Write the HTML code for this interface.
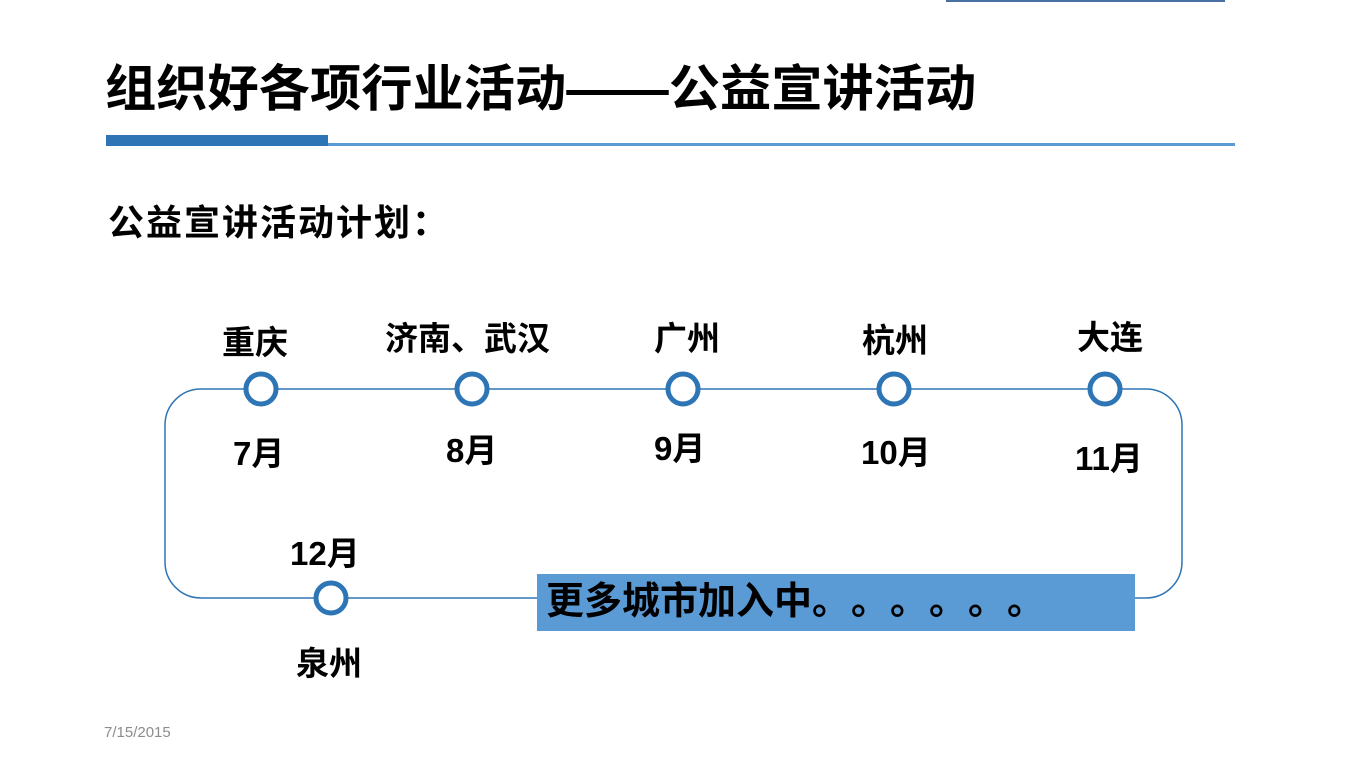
<!DOCTYPE html>
<html><head><meta charset="utf-8"><style>
body{margin:0;width:1366px;height:768px;background:#fff;position:relative;overflow:hidden;font-family:"Liberation Sans","Noto Sans CJK SC",sans-serif}
.t{position:absolute;font-weight:bold;color:#000;white-space:nowrap;line-height:1}
.d{display:inline-block;width:39px}
</style></head><body>
<div style="position:absolute;left:946px;top:0;width:279px;height:2px;background:#4a6fa5"></div>
<div class="t" style="left:105px;top:64px;font-size:50px;letter-spacing:0;transform:scaleX(1.025);transform-origin:left">组织好各项行业活动——公益宣讲活动</div>
<div style="position:absolute;left:106px;top:135px;width:222px;height:11px;background:#2e75b6"></div>
<div style="position:absolute;left:328px;top:143px;width:907px;height:3px;background:#5b9bd5"></div>
<div class="t" style="left:108px;top:205px;font-size:36px;letter-spacing:2px">公益宣讲活动计划：</div>
<svg style="position:absolute;left:0;top:0" width="1366" height="768">
<rect x="165" y="389" width="1017" height="209" rx="36" fill="none" stroke="#2e75b6" stroke-width="1.5"/>
<g fill="#fff" stroke="#2e75b6" stroke-width="5">
<circle cx="261" cy="389" r="15"/><circle cx="472" cy="389" r="15"/><circle cx="683" cy="389" r="15"/><circle cx="894" cy="389" r="15"/><circle cx="1105" cy="389" r="15"/><circle cx="331" cy="598" r="15"/>
</g>
</svg>
<div style="position:absolute;left:537px;top:574px;width:598px;height:57px;background:#5b9bd5"></div>
<div class="t" style="left:546px;top:583px;font-size:38px">更多城市加入中<span class="d">。</span><span class="d">。</span><span class="d">。</span><span class="d">。</span><span class="d">。</span><span class="d">。</span></div>
<div class="t" style="left:222px;top:326px;font-size:33px">重庆</div>
<div class="t" style="left:385px;top:322px;font-size:33px">济南、武汉</div>
<div class="t" style="left:654px;top:322px;font-size:33px">广州</div>
<div class="t" style="left:862px;top:324px;font-size:33px">杭州</div>
<div class="t" style="left:1077px;top:321px;font-size:33px">大连</div>
<div class="t" style="left:233px;top:437px;font-size:33px">7月</div>
<div class="t" style="left:446px;top:434px;font-size:33px">8月</div>
<div class="t" style="left:654px;top:432px;font-size:33px">9月</div>
<div class="t" style="left:861px;top:436px;font-size:33px">10月</div>
<div class="t" style="left:1075px;top:442px;font-size:33px">11月</div>
<div class="t" style="left:290px;top:537px;font-size:33px">12月</div>
<div class="t" style="left:296px;top:647px;font-size:33px">泉州</div>
<div style="position:absolute;left:104px;top:724px;font-size:15px;color:#8c8c8c">7/15/2015</div>
</body></html>
